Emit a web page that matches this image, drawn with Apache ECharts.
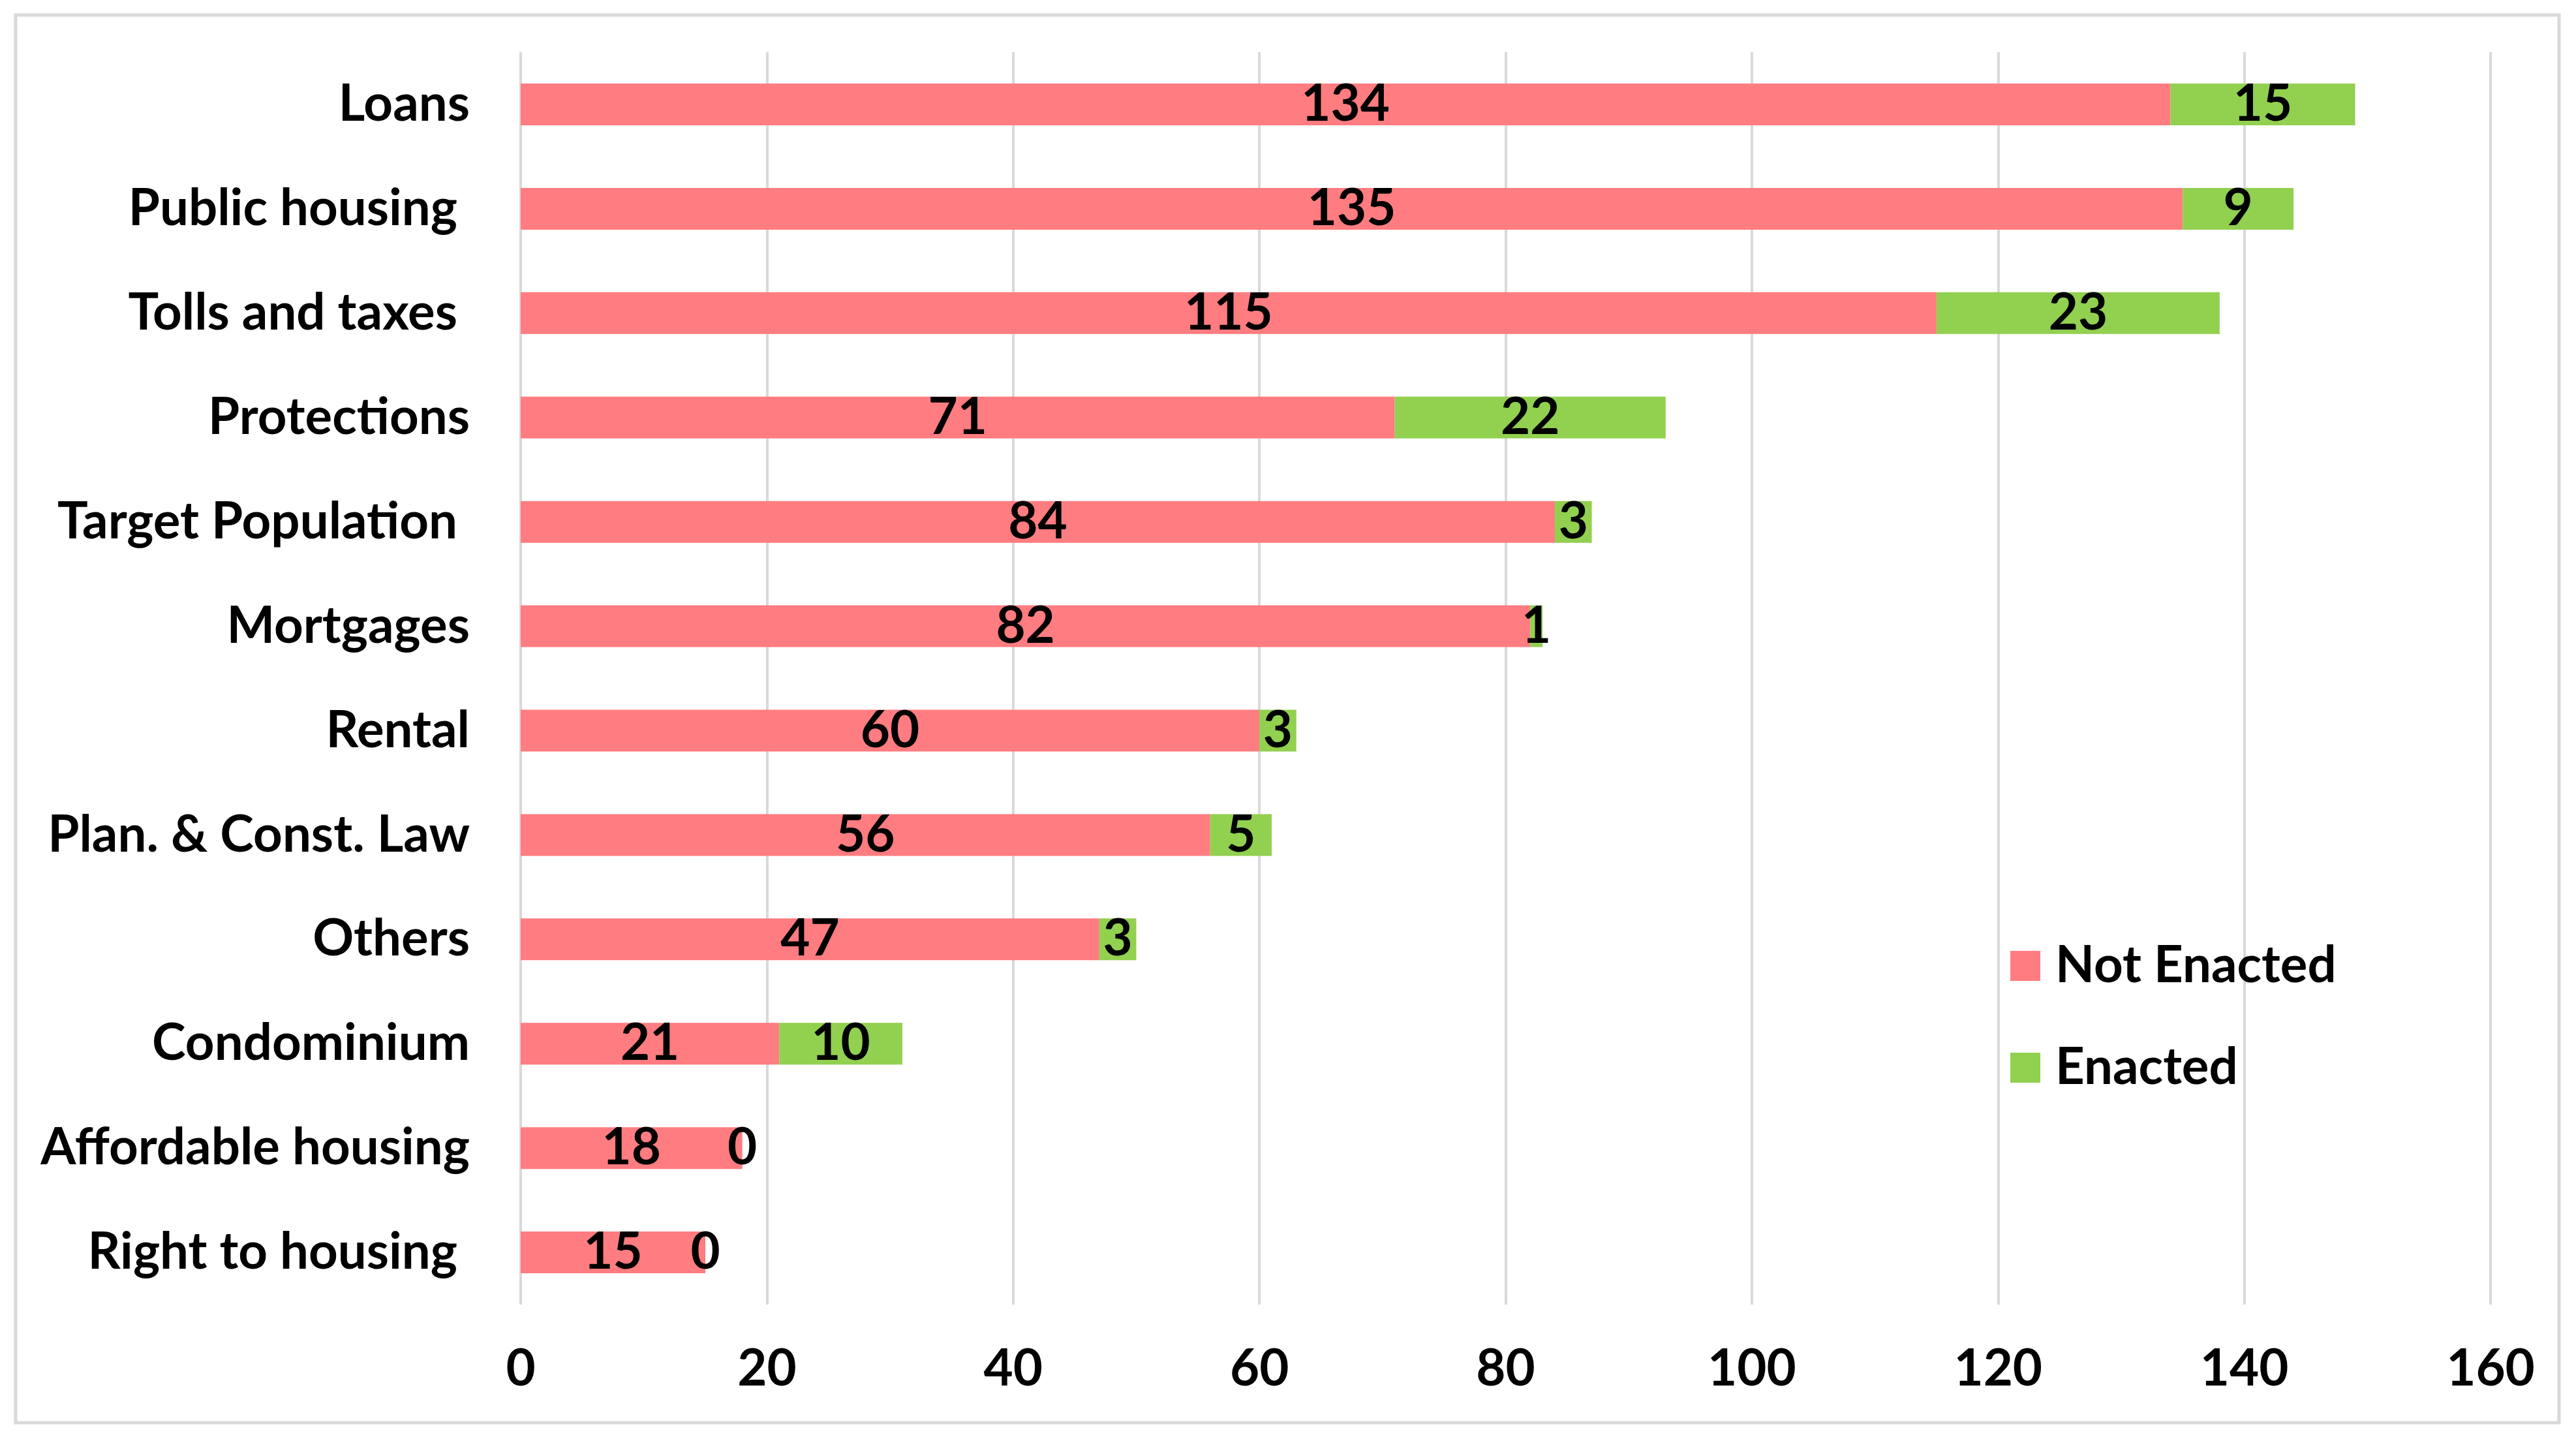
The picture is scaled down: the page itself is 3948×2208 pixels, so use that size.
<!DOCTYPE html>
<html>
<head>
<meta charset="utf-8">
<script src="https://cdn.jsdelivr.net/npm/echarts@6/dist/echarts.min.js"></script>
<style>
html,body{margin:0;padding:0;background:#fff;}
#c{width:3948px;height:2208px;}
</style>
</head>
<body>
<div id="c"></div>
<script>
const categories = ["Loans", "Public housing ", "Tolls and taxes ", "Protections", "Target Population ", "Mortgages", "Rental", "Plan. & Const. Law", "Others", "Condominium", "Affordable housing", "Right to housing "];
const notEnacted = [134, 135, 115, 71, 84, 82, 60, 56, 47, 21, 18, 15];
const enacted = [15, 9, 23, 22, 3, 1, 3, 5, 3, 10, 0, 0];
const xTicks = [0, 20, 40, 60, 80, 100, 120, 140, 160];

const FONT = 'Lato';
const FS = 78;
const chart = echarts.init(document.getElementById('c'), null, {renderer: 'canvas'});
const labelStyle = {show: true, position: 'inside', color: '#000', fontFamily: FONT, fontWeight: 'bold', fontSize: FS};
chart.setOption({
  backgroundColor: '#fff',
  animation: false,
  graphic: [{
    type: 'rect', shape: {x: 24, y: 23, width: 3898, height: 2157},
    style: {fill: 'none', stroke: '#D9D9D9', lineWidth: 5}, z: -10
  }],
  grid: {left: 798, right: 131, top: 80, bottom: 209, containLabel: false},
  legend: {
    orient: 'vertical', left: 3076, top: 1436,
    itemWidth: 46, itemHeight: 46, itemGap: 78, icon: 'rect',
    textStyle: {fontFamily: FONT, fontWeight: 'bold', fontSize: FS, color: '#000', padding: [0, 0, 0, 18]},
    data: ['Not Enacted', 'Enacted']
  },
  xAxis: {
    type: 'value', min: xTicks[0], max: xTicks[xTicks.length - 1], interval: 20,
    axisLine: {show: false}, axisTick: {show: false},
    splitLine: {show: true, lineStyle: {color: '#D9D9D9', width: 4}},
    axisLabel: {fontFamily: FONT, fontWeight: 'bold', fontSize: FS, color: '#000', margin: 60}
  },
  yAxis: {
    type: 'category', data: categories, inverse: true,
    axisLine: {show: false}, axisTick: {show: false},
    axisLabel: {fontFamily: FONT, fontWeight: 'bold', fontSize: FS, color: '#000', margin: 78}
  },
  series: [
    {name: 'Not Enacted', type: 'bar', stack: 'a', data: notEnacted, barWidth: 64,
     itemStyle: {color: '#FF7C80'}, label: labelStyle},
    {name: 'Enacted', type: 'bar', stack: 'a', data: enacted, barWidth: 64,
     itemStyle: {color: '#92D050'}, label: labelStyle}
  ]
});
</script>
</body>
</html>
